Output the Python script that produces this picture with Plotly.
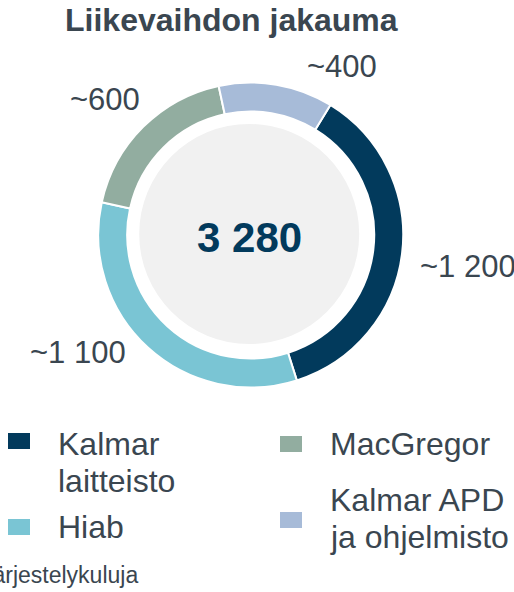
import plotly.graph_objects as go

W, H = 514, 592

categories = ["Kalmar laitteisto", "Hiab", "MacGregor", "Kalmar APD ja ohjelmisto"]
legend_lines = [["Kalmar", "laitteisto"], ["Hiab"], ["MacGregor"], ["Kalmar APD", "ja ohjelmisto"]]
values = [1200, 1100, 600, 400]
value_labels = ["~1 200", "~1 100", "~600", "~400"]
total_label = "3 280"
title_text = "Liikevaihdon jakauma"
footnote = "*Ilman uudelleenjärjestelykuluja"

colors = ["#023A5C", "#7AC5D4", "#92ADA0", "#A7BBD8"]
text_color = "#3A4650"
FONT = "Liberation Sans, Arial, sans-serif"

def px(x):
    return x / W

def py(y):
    return 1 - y / H

cx, cy, R = 250.7, 235.0, 152.5

fig = go.Figure()
fig.add_trace(go.Pie(
    labels=categories,
    values=values,
    sort=False,
    direction="clockwise",
    rotation=31.5,
    hole=0.81,
    marker=dict(colors=colors, line=dict(color="white", width=2)),
    textinfo="none",
    hoverinfo="label+value",
    showlegend=False,
    domain=dict(x=[px(cx - R), px(cx + R)], y=[py(cy + R), py(cy - R)]),
))

shapes = []
gr = 110
shapes.append(dict(type="circle", xref="paper", yref="paper",
                   x0=px(cx - 1.5 - gr), x1=px(cx - 1.5 + gr),
                   y0=py(cy - 1 + gr), y1=py(cy - 1 - gr),
                   fillcolor="#F1F1F1", line=dict(width=0), layer="below"))

annotations = []
annotations.append(dict(text=f"<b>{title_text}</b>", x=px(231), y=py(20), xref="paper", yref="paper",
                        showarrow=False, xanchor="center", yanchor="middle",
                        font=dict(family=FONT, size=32, color=text_color)))
annotations.append(dict(text=f"<b>{total_label}</b>", x=px(249), y=py(237), xref="paper", yref="paper",
                        showarrow=False, xanchor="center", yanchor="middle",
                        font=dict(family=FONT, size=42, color="#023A5C")))

label_pos = [(418, 266, "left"), (28, 352, "left"), (105, 100, "center"), (342, 67, "center")]
for (x, y, anc), t in zip(label_pos, value_labels):
    annotations.append(dict(text=t, x=px(x), y=py(y), xref="paper", yref="paper",
                            showarrow=False, xanchor=anc, yanchor="middle",
                            font=dict(family=FONT, size=31, color=text_color)))

# custom legend: square marker + one annotation per text line
leg = [(8, 441, 56, 444), (8, 527, 56, 527), (280, 444, 328, 444), (280, 520, 328, 500)]
for (sx, sy, tx, ty), lines, col in zip(leg, legend_lines, colors):
    shapes.append(dict(type="rect", xref="paper", yref="paper",
                       x0=px(sx), x1=px(sx + 22), y0=py(sy - 8), y1=py(sy + 8),
                       fillcolor=col, line=dict(width=0)))
    for i, line in enumerate(lines):
        annotations.append(dict(text=line, x=px(tx), y=py(ty + 37 * i), xref="paper", yref="paper",
                                showarrow=False, xanchor="left", yanchor="middle", align="left",
                                font=dict(family=FONT, size=32, color=text_color)))

annotations.append(dict(text=footnote, x=px(140), y=py(575), xref="paper", yref="paper",
                        showarrow=False, xanchor="right", yanchor="middle",
                        font=dict(family=FONT, size=23, color=text_color)))

fig.update_layout(
    width=W, height=H,
    margin=dict(l=0, r=0, t=0, b=0),
    paper_bgcolor="white",
    plot_bgcolor="white",
    shapes=shapes,
    annotations=annotations,
)

fig.write_html("out.html", config={"displayModeBar": False},
               post_script="document.body.style.margin='0';")
